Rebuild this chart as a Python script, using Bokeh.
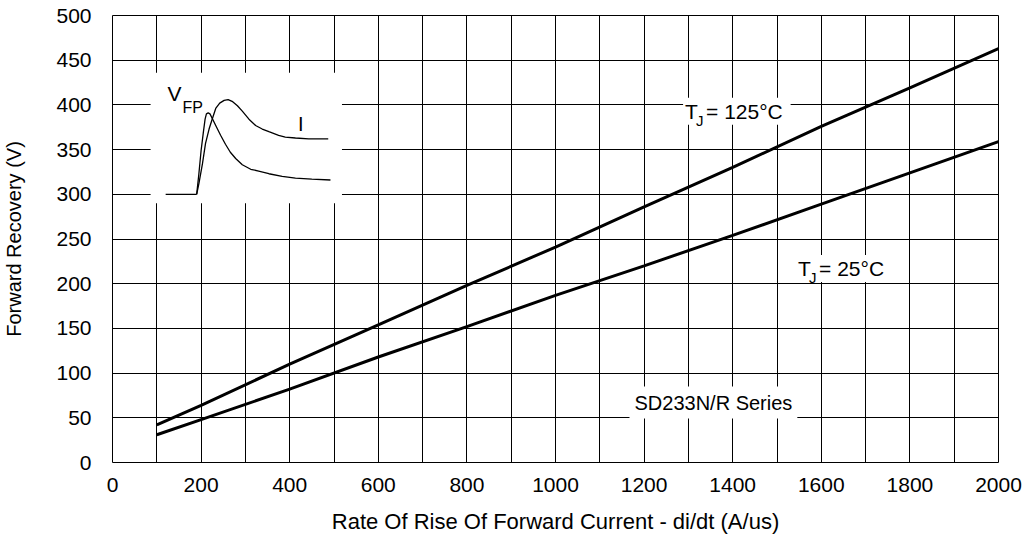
from bokeh.plotting import figure
from bokeh.models import Range1d, SingleIntervalTicker, Label
from bokeh.embed import file_html
from bokeh.resources import INLINE

# Forward recovery curves
di_dt = [100, 200, 400, 600, 800, 1000, 1200, 1400, 1600, 1800, 2000]
vfr_125 = [42, 64, 110, 154, 198, 241, 286, 330, 376, 419, 463]
vfr_25 = [31, 48, 82, 118, 152, 187, 220, 254, 289, 324, 359]

x_tick_step = 200
x_grid_step = 100
y_step = 50

# Inset sketch of the waveform (in chart units)
inset_base_x = [120, 190]
inset_base_y = [300, 300]
inset_v_x = [190, 195, 200, 205, 209, 212, 216, 220, 225, 233, 244, 255, 266, 278,
             293, 312, 330, 353, 383, 413, 450, 492]
inset_v_y = [300, 323, 349, 369, 384, 390, 391, 390, 385, 377, 366, 356, 347, 340,
             333, 328, 326, 323, 320, 318, 317, 316]
inset_i_x = [190, 195, 203, 210, 218, 225, 233, 242, 252, 261, 270, 282, 293, 308,
             323, 338, 353, 375, 390, 413, 443, 487]
inset_i_y = [300, 312, 334, 357, 373, 384, 396, 402, 405, 406, 404, 399, 393, 384,
             377, 373, 370, 366, 364, 363, 362, 362]
inset_box = dict(left=86, right=518, bottom=290, top=436)

FONT = "Liberation Sans"

p = figure(width=1022, height=537,
           x_range=Range1d(0, 2000), y_range=Range1d(0, 500),
           output_backend="svg", toolbar_location=None,
           min_border_left=110, min_border_right=24, min_border_top=15, min_border_bottom=75)

p.outline_line_color = "black"
p.outline_line_width = 1
p.background_fill_color = "white"
p.border_fill_color = "white"

p.xaxis.ticker = SingleIntervalTicker(interval=x_tick_step)
p.yaxis.ticker = SingleIntervalTicker(interval=y_step)
p.xgrid.ticker = SingleIntervalTicker(interval=x_grid_step)
p.ygrid.ticker = SingleIntervalTicker(interval=y_step)
for g in (p.xgrid, p.ygrid):
    g.grid_line_color = "black"
    g.grid_line_alpha = 1.0
    g.grid_line_width = 1

for ax in (p.xaxis, p.yaxis):
    ax.axis_line_color = None
    ax.major_tick_line_color = None
    ax.minor_tick_line_color = None
    ax.major_tick_out = 0
    ax.major_tick_in = 0
    ax.major_label_text_font = FONT
    ax.major_label_text_font_size = "21px"
    ax.major_label_text_color = "black"
    ax.axis_label_text_font = FONT
    ax.axis_label_text_font_style = "normal"
    ax.axis_label_text_color = "black"

p.xaxis.axis_label = "Rate Of Rise Of Forward Current - di/dt (A/us)"
p.yaxis.axis_label = "Forward Recovery (V)"
p.xaxis.axis_label_text_font_size = "22px"
p.yaxis.axis_label_text_font_size = "20px"
p.xaxis.major_label_standoff = 11
p.xaxis.axis_label_standoff = 14
p.yaxis.major_label_standoff = 17
p.yaxis.axis_label_standoff = 28

# inset white area
p.quad(left=[inset_box["left"]], right=[inset_box["right"]],
       bottom=[inset_box["bottom"]], top=[inset_box["top"]],
       fill_color="white", line_color=None)
p.line(inset_base_x, inset_base_y, line_color="black", line_width=1.3)
p.line(inset_v_x, inset_v_y, line_color="black", line_width=1.3)
p.line(inset_i_x, inset_i_y, line_color="black", line_width=1.3)

# main curves
p.line(di_dt, vfr_125, line_color="black", line_width=3)
p.line(di_dt, vfr_25, line_color="black", line_width=3)


def lab(x, y, text, size, dx=0, dy=0, bg=None, pad=0):
    kw = {}
    if bg:
        kw = dict(background_fill_color=bg, padding=pad)
    p.add_layout(Label(x=x, y=y, text=text, x_offset=dx, y_offset=dy,
                       text_font=FONT, text_font_size=size, text_color="black",
                       text_baseline="alphabetic", text_align="left", **kw))


# T_J = 125°C
lab(1288, 393, "T ", "21px", bg="white", pad=2)
lab(1288, 393, " = 125°C", "21px", dx=21, bg="white", pad=2)
lab(1288, 393, "J", "15px", dx=13, dy=-9)
# T_J = 25°C
lab(1543, 217, "T ", "21px", bg="white", pad=2)
lab(1543, 217, " = 25°C", "21px", dx=21, bg="white", pad=2)
lab(1543, 217, "J", "15px", dx=13, dy=-9)

# series label
lab(1167, 67, "SD233N/R Series", "20px", bg="white", pad=5)

# inset labels
lab(124, 413, "V", "21px")
lab(124, 413, "FP", "16px", dx=15, dy=-14)
lab(419, 379, "I", "20px")

open("out.html", "w").write(file_html(p, INLINE))
